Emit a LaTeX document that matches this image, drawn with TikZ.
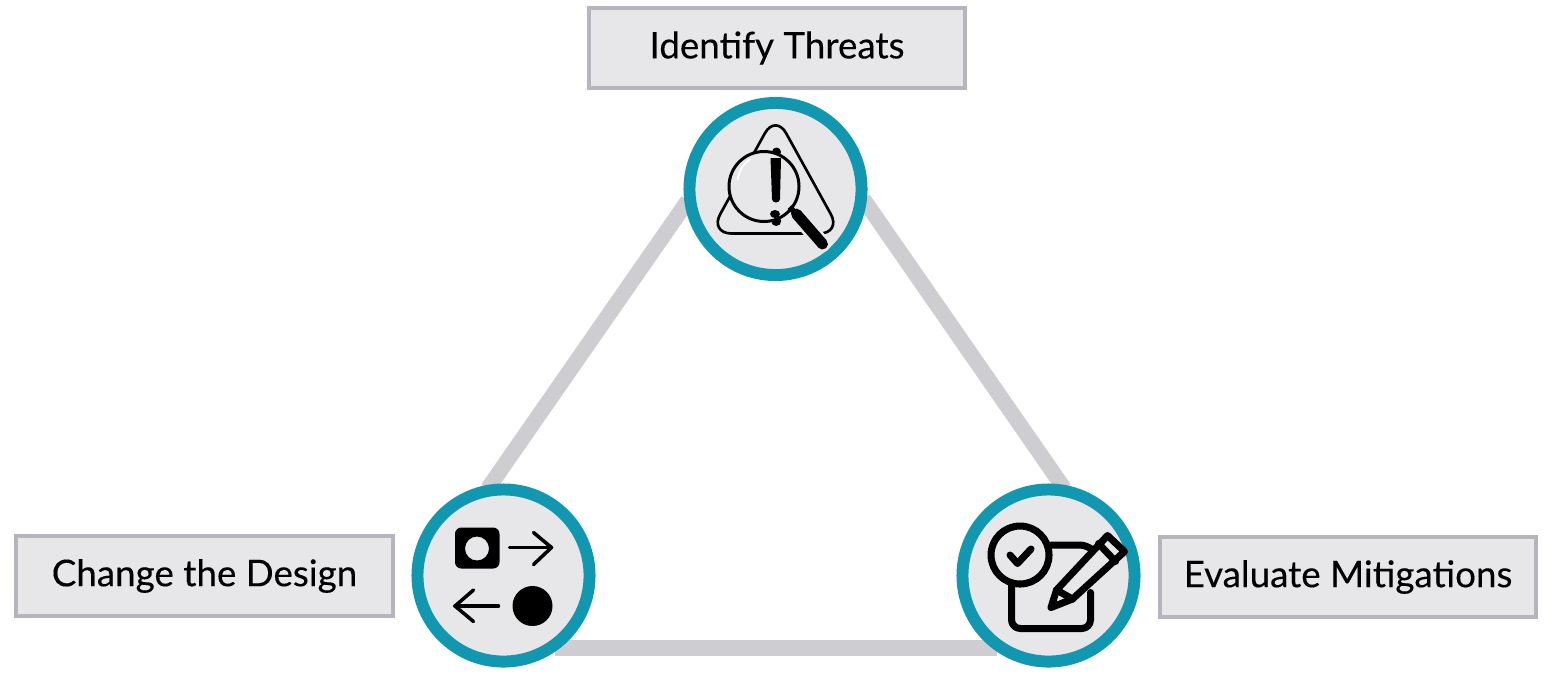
\documentclass[tikz,border=0pt]{standalone}
\usepackage{fontspec}
\newfontfamily\labelfont{Lato}[FakeBold=0.25]
\usetikzlibrary{backgrounds}
\definecolor{ringteal}{RGB}{17,152,176}
\definecolor{fillgrey}{RGB}{231,231,233}
\definecolor{edgegrey}{RGB}{205,205,210}
\definecolor{boxgrey}{RGB}{181,181,189}
\tikzset{
  steplabel/.style={draw=boxgrey,fill=fillgrey,line width=1.1pt,minimum width=3.76cm,minimum height=0.8cm,inner sep=0pt,font=\labelfont\fontsize{10.45pt}{12pt}\selectfont},
  stepring/.style={circle,draw=ringteal,fill=fillgrey,line width=3.4pt,minimum size=1.72cm,inner sep=0pt},
  sideline/.style={draw=edgegrey,line width=4.4pt,shorten <=-1.5pt,shorten >=-1.5pt},
  iconline/.style={draw=black,line width=1pt,line cap=round,line join=round}
}
\begin{document}
\begin{tikzpicture}[x=0.01cm,y=-0.01cm]
\useasboundingbox (0,0) rectangle (1552,699);
%%Circles
\node[stepring] (threats) at (775.5,189) {};
\node[stepring] (design) at (503.5,575.5) {};
\node[stepring] (mitigate) at (1048.5,575.5) {};
%%Labels
\node[steplabel] (threatsbox) at (777,48) {Identify Threats};
\node[steplabel] (designbox) at (204.5,576) {Change the Design};
\node[steplabel] (mitigatebox) at (1348,577) {Evaluate Mitigations};
%%Triangle
\begin{scope}[on background layer]
\draw[sideline] (threats.190) -- (design.98);
\draw[sideline] (threats.-9) -- (mitigate.82);
\draw[sideline] (design.-52) -- (mitigate.232);
\end{scope}
%%Magnifier
\begin{scope}[shift={(threats.center)}]
\draw[iconline,line width=0.75pt,rounded corners=6.3pt] (0,-75) -- (66,44.5) -- (-66,44.5) -- cycle;
\fill (1,-37) circle (4.5);
\fill (0.7,32) circle (5);
\draw[fillgrey,line width=4.6pt,line cap=round] (19,23) -- (47,55);
\draw[iconline,line width=0.85pt,fill=fillgrey] (-11.5,-2.5) circle (35);
\fill (-5,-31) -- (5.5,-31) -- (4.5,10) arc (0:180:4 and 3.5) -- cycle;
\fill (-0.5,25) ellipse (5 and 4);
\draw[white,line width=0.5pt] (-38,-9) .. controls (-36,-20) and (-31,-26) .. (-25,-30);
\draw[black,line width=3.1pt,line cap=round] (21,25) -- (47,55);
\draw[black,line width=1.6pt] (14,18) -- (21,25);
\end{scope}
%%Swap
\begin{scope}[shift={(design.center)}]
\fill[even odd rule] [rounded corners=1.8pt] (-48.5,-48) rectangle (-4,-7) [sharp corners] (-26.5,-27) circle (12);
\draw[iconline] (6,-28) -- (48,-28);
\draw[iconline] (30,-43) -- (48,-28) -- (30,-11);
\draw[iconline] (-5,30.5) -- (-48.5,30.5);
\draw[iconline] (-30,14.5) -- (-48.5,30.5) -- (-30,46);
\fill (29,30.5) circle (20);
\end{scope}
%%Checklist
\begin{scope}[shift={(mitigate.center)},iconline/.append style={line width=2pt}]
\draw[iconline,rounded corners=2.5pt] (-37,10) -- (-37,53) -- (42,53) -- (42,17);
\draw[iconline,rounded corners=2.5pt] (3,-30.5) -- (40,-30.5) -- (46,-24);
\draw[iconline] (-28.5,-20.5) circle (29);
\draw[iconline] (-38.5,-20.5) -- (-31,-12) -- (-17.5,-26.5);
\draw[iconline,fill=fillgrey] (2.5,32) -- (8,14.5) -- (59,-40) -- (76,-24) -- (24,23.5) -- cycle;
\draw[iconline] (50,-32) -- (67,-14);
\draw[iconline] (8,14.5) -- (24,23.5);
\end{scope}
\end{tikzpicture}
\end{document}
